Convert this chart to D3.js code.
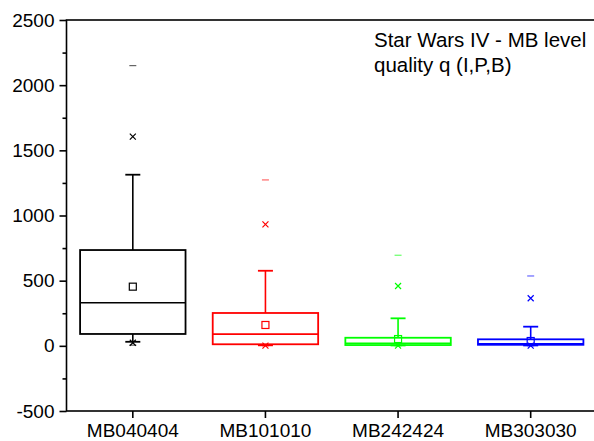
<!DOCTYPE html>
<html>
<head>
<meta charset="utf-8">
<script src="https://cdn.jsdelivr.net/npm/d3@7"></script>
<style>
  html, body { margin: 0; padding: 0; background: #fff; }
  svg { display: block; font-family: "Liberation Sans", Arial, sans-serif; }
</style>
</head>
<body>
<svg id="chart" width="594" height="441"></svg>
<script>
// Encoder configurations compared in the box chart
const categories = ["MB040404", "MB101010", "MB242424", "MB303030"];
const colors = ["#000000", "#ff0000", "#00ff00", "#0000ff"];

// Distribution statistics per configuration
const minVals    = [5, 0, 0, 0];
const p1Vals     = [24, 2, 2, 2];
const p5Vals     = [31, 4, 3, 3];
const q1Vals     = [91, 12, 6, 8];
const medianVals = [331, 90, 20, 15];
const q3Vals     = [735, 252, 62, 50];
const p95Vals    = [1313, 576, 211, 147];
const p99Vals    = [1605, 932, 459, 365];
const maxVals    = [2150, 1273, 695, 536];
const meanVals   = [454, 160, 52, 37];

const yTicks = [-500, 0, 500, 1000, 1500, 2000, 2500];
const yMinorTicks = [-250, 250, 750, 1250, 1750, 2250];
const titleLines = ["Star Wars IV - MB level", "quality q (I,P,B)"];

const rows = categories.map((c, i) => ({
  name: c, color: colors[i],
  min: minVals[i], p1: p1Vals[i], p5: p5Vals[i], q1: q1Vals[i],
  median: medianVals[i], q3: q3Vals[i], p95: p95Vals[i],
  p99: p99Vals[i], max: maxVals[i], mean: meanVals[i]
}));

const svg = d3.select("#chart");
const plotLeft = 66.5, plotRight = 597, plotTop = 20, plotBottom = 411;

const x = d3.scaleBand().domain(categories).range([plotLeft, plotRight]).padding(0);
const y = d3.scaleLinear().domain([-500, 2500]).range([plotBottom, plotTop]);

const boxW = x.bandwidth() * 0.795;
const capW = 15;
const fontSize = 19;

// Frame
svg.append("rect")
  .attr("x", plotLeft).attr("y", plotTop)
  .attr("width", plotRight - plotLeft).attr("height", plotBottom - plotTop)
  .attr("fill", "none").attr("stroke", "#000").attr("stroke-width", 1.6);

// Y axis: labelled major ticks and unlabelled minor ticks (plain hyphen for negatives)
const yAxis = svg.append("g").attr("transform", `translate(${plotLeft},0)`)
  .call(d3.axisLeft(y).tickValues(yTicks).tickSize(7).tickPadding(5).tickFormat(d => String(d)));
yAxis.select(".domain").remove();
yAxis.selectAll("line").attr("stroke-width", 1.6);
yAxis.selectAll("text").attr("font-size", fontSize).attr("fill", "#000")
  .attr("font-family", "Liberation Sans, Arial, sans-serif");

const yMinor = svg.append("g").attr("transform", `translate(${plotLeft},0)`)
  .call(d3.axisLeft(y).tickValues(yMinorTicks).tickSize(4).tickFormat(""));
yMinor.select(".domain").remove();
yMinor.selectAll("line").attr("stroke-width", 1.6);

// X axis
const xAxis = svg.append("g").attr("transform", `translate(0,${plotBottom})`)
  .call(d3.axisBottom(x).tickSize(7).tickPadding(6));
xAxis.select(".domain").remove();
xAxis.selectAll("line").attr("stroke-width", 1.6);
xAxis.selectAll("text").attr("font-size", fontSize).attr("fill", "#000")
  .attr("font-family", "Liberation Sans, Arial, sans-serif");

// Boxes
const g = svg.selectAll("g.box").data(rows).join("g").attr("class", "box")
  .attr("transform", d => `translate(${x(d.name) + x.bandwidth() / 2},0)`);

// Whiskers from box edges to 5% / 95%
g.append("line").attr("x1", 0).attr("x2", 0)
  .attr("y1", d => y(d.q3)).attr("y2", d => y(d.p95))
  .attr("stroke", d => d.color).attr("stroke-width", 1.6);
g.append("line").attr("x1", 0).attr("x2", 0)
  .attr("y1", d => y(d.q1)).attr("y2", d => y(d.p5))
  .attr("stroke", d => d.color).attr("stroke-width", 1.6);
g.append("line").attr("x1", -capW / 2).attr("x2", capW / 2)
  .attr("y1", d => y(d.p95)).attr("y2", d => y(d.p95))
  .attr("stroke", d => d.color).attr("stroke-width", 1.8);
g.append("line").attr("x1", -capW / 2).attr("x2", capW / 2)
  .attr("y1", d => y(d.p5)).attr("y2", d => y(d.p5))
  .attr("stroke", d => d.color).attr("stroke-width", 1.8);

// Interquartile box and median
g.append("rect")
  .attr("x", -boxW / 2).attr("width", boxW)
  .attr("y", d => y(d.q3)).attr("height", d => y(d.q1) - y(d.q3))
  .attr("fill", "none").attr("stroke", d => d.color).attr("stroke-width", 1.8);
g.append("line").attr("x1", -boxW / 2).attr("x2", boxW / 2)
  .attr("y1", d => y(d.median)).attr("y2", d => y(d.median))
  .attr("stroke", d => d.color).attr("stroke-width", 1.6);

// Mean marker
g.append("rect")
  .attr("x", -3.5).attr("width", 7)
  .attr("y", d => y(d.mean) - 3.5).attr("height", 7)
  .attr("fill", "none").attr("stroke", d => d.color).attr("stroke-width", 1.2);

// 1% / 99% crosses
const cross = (sel, key) => sel.append("path")
  .attr("d", d => {
    const cy = y(d[key]), s = 3;
    return `M${-s},${cy - s}L${s},${cy + s}M${-s},${cy + s}L${s},${cy - s}`;
  })
  .attr("fill", "none").attr("stroke", d => d.color).attr("stroke-width", 1.2);
cross(g, "p99");
cross(g, "p1");

// Min / max dashes
const dash = (sel, key) => sel.append("line")
  .attr("x1", -3.5).attr("x2", 3.5)
  .attr("y1", d => y(d[key])).attr("y2", d => y(d[key]))
  .attr("stroke", d => d.color).attr("stroke-opacity", 0.6).attr("stroke-width", 1.2);
dash(g, "max");
dash(g, "min");

// Caption
svg.append("g").selectAll("text").data(titleLines).join("text")
  .attr("x", 374).attr("y", (d, i) => 47 + i * 25)
  .attr("font-size", 20.5).attr("fill", "#000")
  .text(d => d);
</script>
</body>
</html>
